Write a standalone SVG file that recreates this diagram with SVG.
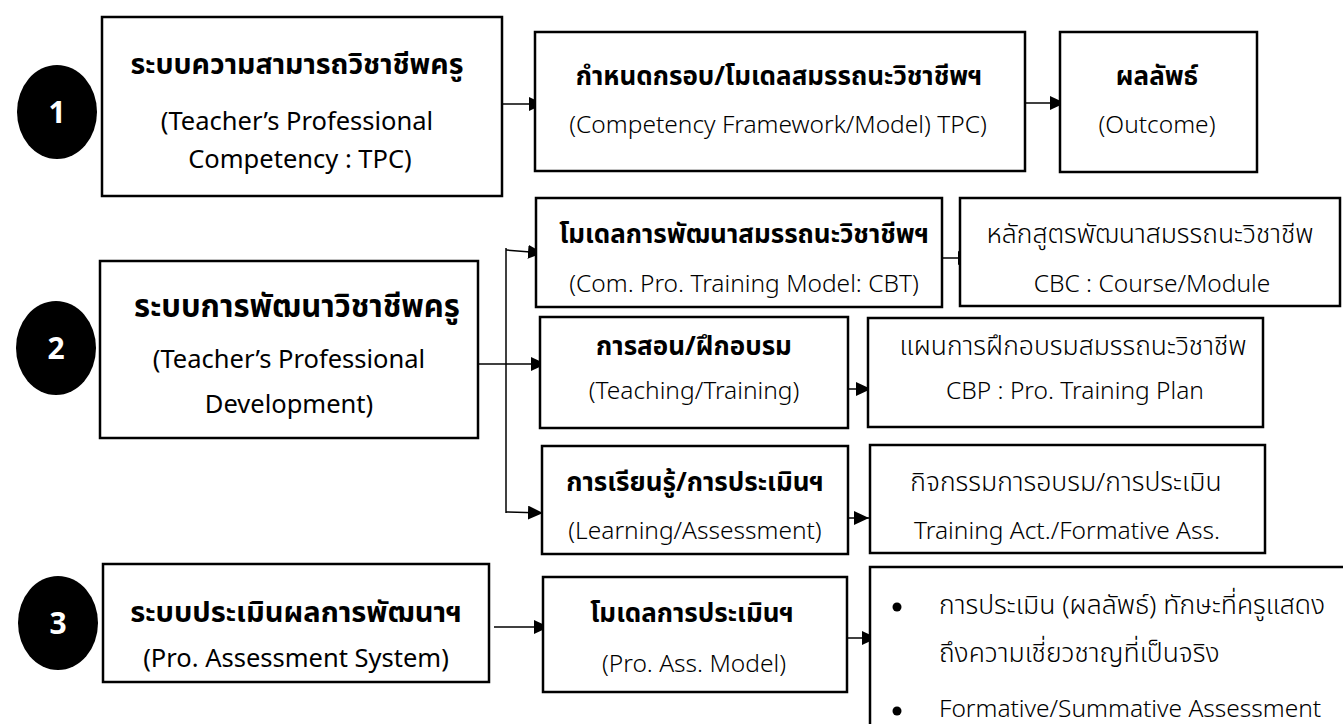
<svg xmlns="http://www.w3.org/2000/svg" width="1343" height="724" viewBox="0 0 1343 724">
<style>
.box{fill:#fff;stroke:#000;stroke-width:2.5}
.circ{fill:#000}
.num{font-family:"Noto Sans","Open Sans",sans-serif;font-weight:bold;font-size:30px;fill:#fff;text-anchor:middle}
.t{font-family:"Noto Sans","Noto Sans Thai","Open Sans",sans-serif;fill:#000;text-anchor:middle}
.lt{font-size:29px;font-weight:bold}
.le{font-size:25.5px}
.rt{font-size:26px;font-weight:bold}
.rr{font-size:26.5px;font-weight:300}
.re{font-size:24.5px;font-weight:300}
.l{text-anchor:start}
.con{fill:none;stroke:#000;stroke-width:1.5}
</style>
<defs>
<marker id="ah" viewBox="0 0 15 14" refX="15" refY="7" markerWidth="15" markerHeight="14" markerUnits="userSpaceOnUse" orient="auto">
<path d="M0,0 L15,7 L0,14 Z" fill="#000"/>
</marker>
</defs>

<g id="connectors">
<line class="con" x1="502" y1="104" x2="544" y2="104" marker-end="url(#ah)"/>
<line class="con" x1="1025" y1="103" x2="1065" y2="103" marker-end="url(#ah)"/>
<line class="con" x1="479" y1="364" x2="546" y2="364" marker-end="url(#ah)"/>
<line class="con" x1="506" y1="248" x2="506" y2="513"/>
<line class="con" x1="506" y1="250" x2="543" y2="253" marker-end="url(#ah)"/>
<line class="con" x1="506" y1="512" x2="543" y2="513" marker-end="url(#ah)"/>
<line class="con" x1="942" y1="258" x2="973" y2="258" marker-end="url(#ah)"/>
<line class="con" x1="848" y1="389" x2="871" y2="389" marker-end="url(#ah)"/>
<line class="con" x1="848" y1="518" x2="869" y2="518" marker-end="url(#ah)"/>
<line class="con" x1="494" y1="627" x2="549" y2="627" marker-end="url(#ah)"/>
<line class="con" x1="847" y1="638" x2="877" y2="638" marker-end="url(#ah)"/>
</g>

<g id="num1"><ellipse class="circ" cx="57" cy="112" rx="40" ry="47"/><text class="num" x="57" y="123">1</text></g>
<g id="num2"><ellipse class="circ" cx="56" cy="348" rx="40" ry="47"/><text class="num" x="56" y="359">2</text></g>
<g id="num3"><ellipse class="circ" cx="58" cy="623" rx="40" ry="47"/><text class="num" x="58" y="634">3</text></g>

<g id="tpc">
<rect class="box" x="102" y="17" width="400" height="179"/>
<text class="t lt" x="297" y="74" style="font-size:28.5px">ระบบความสามารถวิชาชีพครู</text>
<text class="t le" x="297" y="130">(Teacher’s Professional</text>
<text class="t le" x="300" y="168">Competency : TPC)</text>
</g>

<g id="framework">
<rect class="box" x="535" y="32" width="490" height="139"/>
<text class="t rt" x="779" y="85">กำหนดกรอบ/โมเดลสมรรถนะวิชาชีพฯ</text>
<text class="t re" x="778" y="133">(Competency Framework/Model) TPC)</text>
</g>

<g id="outcome">
<rect class="box" x="1060" y="32" width="197" height="140"/>
<text class="t rt" x="1157" y="85">ผลลัพธ์</text>
<text class="t re" x="1157" y="133">(Outcome)</text>
</g>

<g id="tpd">
<rect class="box" x="100" y="261" width="378" height="177"/>
<text class="t lt" x="297" y="317" style="font-size:31px">ระบบการพัฒนาวิชาชีพครู</text>
<text class="t le" x="289" y="368">(Teacher’s Professional</text>
<text class="t le" x="289" y="413">Development)</text>
</g>

<g id="cbt">
<rect class="box" x="536" y="198" width="406" height="109"/>
<text class="t rt" x="744" y="243">โมเดลการพัฒนาสมรรถนะวิชาชีพฯ</text>
<text class="t re" x="744" y="292">(Com. Pro. Training Model: CBT)</text>
</g>

<g id="cbc">
<rect class="box" x="960" y="198" width="380" height="108"/>
<text class="t rr" x="1150" y="243">หลักสูตรพัฒนาสมรรถนะวิชาชีพ</text>
<text class="t re" x="1152" y="292">CBC : Course/Module</text>
</g>

<g id="teaching">
<rect class="box" x="540" y="317" width="308" height="111"/>
<text class="t rt" x="694" y="355">การสอน/ฝึกอบรม</text>
<text class="t re" x="694" y="399">(Teaching/Training)</text>
</g>

<g id="cbp">
<rect class="box" x="868" y="318" width="395" height="109"/>
<text class="t rr" x="1073" y="355">แผนการฝึกอบรมสมรรถนะวิชาชีพ</text>
<text class="t re" x="1075" y="399">CBP : Pro. Training Plan</text>
</g>

<g id="learning">
<rect class="box" x="542" y="446" width="306" height="108"/>
<text class="t rt" x="695" y="491">การเรียนรู้/การประเมินฯ</text>
<text class="t re" x="695" y="539">(Learning/Assessment)</text>
</g>

<g id="activity">
<rect class="box" x="870" y="445" width="395" height="108"/>
<text class="t rr" x="1066" y="491">กิจกรรมการอบรม/การประเมิน</text>
<text class="t re" x="1067" y="539">Training Act./Formative Ass.</text>
</g>

<g id="pas">
<rect class="box" x="103" y="564" width="386" height="118"/>
<text class="t lt" x="296" y="622">ระบบประเมินผลการพัฒนาฯ</text>
<text class="t le" x="296" y="667">(Pro. Assessment System)</text>
</g>

<g id="pam">
<rect class="box" x="543" y="577" width="304" height="115"/>
<text class="t rt" x="692" y="622">โมเดลการประเมินฯ</text>
<text class="t re" x="694" y="672">(Pro. Ass. Model)</text>
</g>

<g id="results">
<rect class="box" x="870" y="567" width="490" height="170"/>
<circle cx="897" cy="607" r="4.5" fill="#000"/>
<circle cx="897" cy="711" r="4.5" fill="#000"/>
<text class="t rr l" x="939" y="614">การประเมิน (ผลลัพธ์) ทักษะที่ครูแสดง</text>
<text class="t rr l" x="939" y="662">ถึงความเชี่ยวชาญที่เป็นจริง</text>
<text class="t re l" x="939" y="717">Formative/Summative Assessment</text>
</g>
</svg>
